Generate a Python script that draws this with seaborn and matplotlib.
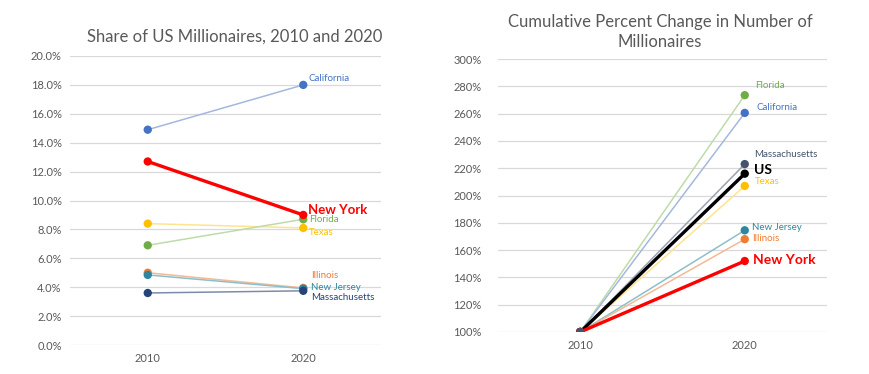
import matplotlib
matplotlib.use("Agg")
import matplotlib.pyplot as plt
import seaborn as sns
import pandas as pd
from matplotlib.ticker import FuncFormatter

sns.set_style("white")
plt.rcParams['font.family'] = ['Lato', 'DejaVu Sans']

years = ["2010", "2020"]

# Left chart: share of US millionaires (%)
share_states = ["California", "Texas", "Florida", "Illinois", "New Jersey", "Massachusetts", "New York"]
share_2010 = [14.9, 8.4, 6.9, 5.0, 4.85, 3.6, 12.7]
share_2020 = [18.0, 8.1, 8.7, 3.95, 3.9, 3.75, 9.0]

# Right chart: cumulative percent change (%)
chg_states = ["Florida", "California", "Massachusetts", "Texas", "New Jersey", "Illinois", "US", "New York"]
chg_2010 = [100, 100, 100, 100, 100, 100, 100, 100]
chg_2020 = [273.5, 260.5, 223, 207, 174.5, 168, 216, 152]

marker_colors = {
    "California": "#4472C4", "Texas": "#FFC000", "Florida": "#70AD47",
    "Illinois": "#ED7D31", "New Jersey": "#2E86A0", "Massachusetts": "#264478",
    "New York": "#FF0000", "US": "#000000",
}
line_colors = {
    "California": "#A4B8DE", "Texas": "#FFE48F", "Florida": "#BFDBA9",
    "Illinois": "#F4B995", "New Jersey": "#8DBFCB", "Massachusetts": "#7D8CA8",
    "New York": "#FF0000", "US": "#000000",
}
right_marker_colors = dict(marker_colors, Massachusetts="#44546A")
right_line_colors = dict(line_colors, Massachusetts="#9AA3B3")

fig = plt.figure(figsize=(8.7, 3.74), dpi=100)
W, H = 870, 374
axL = fig.add_axes([70 / W, 1 - 345 / H, (381 - 70) / W, (345 - 56) / H])
axR = fig.add_axes([498 / W, 1 - 332 / H, (827 - 498) / W, (332 - 59) / H])

tick_color = "#595959"
grid_color = "#D9D9D9"


def draw(ax, states, v10, v20, lc, mc, bold):
    df = pd.DataFrame({
        "state": [s for s in states for _ in years],
        "year": [0, 1] * len(states),
        "value": [v for pair in zip(v10, v20) for v in pair],
    })
    for s in states:
        sub = df[df.state == s]
        lw = 2.4 if s in bold else 1.1
        sns.lineplot(data=sub, x="year", y="value", color=lc[s], lw=lw, ax=ax,
                     zorder=4 if s in bold else 3, legend=False)
    for s in states:
        sub = df[df.state == s]
        sns.scatterplot(data=sub, x="year", y="value", color=mc[s], s=36,
                        edgecolor="none", ax=ax, zorder=5, legend=False)
    return df


draw(axL, share_states, share_2010, share_2020, line_colors, marker_colors, ["New York"])
dfR = draw(axR, chg_states, chg_2010, chg_2020, right_line_colors, right_marker_colors, ["New York", "US"])
# Massachusetts-coloured start point on top
sns.scatterplot(x=[0], y=[chg_2010[chg_states.index("Massachusetts")]],
                color=right_marker_colors["Massachusetts"], s=36, edgecolor="none", ax=axR, zorder=6)

for ax in (axL, axR):
    ax.set_xlim(-0.5, 1.5)
    ax.set_xticks([0, 1])
    ax.set_xticklabels(years)
    ax.set_xlabel("")
    ax.set_ylabel("")
    for sp in ax.spines.values():
        sp.set_visible(False)
    ax.grid(axis="y", color=grid_color, lw=0.9)
    ax.set_axisbelow(True)
    ax.tick_params(axis="both", colors=tick_color, labelsize=8, length=0, pad=6)
    ax.set_facecolor("none")

axL.set_ylim(0, 20)
axL.set_yticks([0, 2, 4, 6, 8, 10, 12, 14, 16, 18, 20])
axL.yaxis.set_major_formatter(FuncFormatter(lambda v, p: f"{v:.1f}%"))
axR.set_ylim(100, 300)
axR.set_yticks(list(range(100, 301, 20)))
axR.yaxis.set_major_formatter(FuncFormatter(lambda v, p: f"{v:.0f}%"))
axR.tick_params(axis="y", pad=12)

fig.text(235 / W, 1 - 37 / H, "Share of US Millionaires, 2010 and 2020", ha="center", va="center",
         fontsize=12, color="#595959")
fig.text(660 / W, 1 - 32 / H, "Cumulative Percent Change in Number of\nMillionaires", ha="center",
         va="center", fontsize=12, color="#595959", linespacing=1.25)

left_offsets = {
    "California": (5, 6), "New York": (5, 5), "Florida": (6, 0), "Texas": (6, -5),
    "Illinois": (8, 12), "New Jersey": (8, 1), "Massachusetts": (8, -7),
}
for s, v in zip(share_states, share_2020):
    bold = s == "New York"
    axL.annotate(s, xy=(1, v), xytext=left_offsets[s], textcoords="offset pixels",
                 ha="left", va="center", fontsize=9.5 if bold else 7,
                 fontweight="bold" if bold else "normal",
                 color=marker_colors[s] if s != "Massachusetts" else "#264478")

right_offsets = {
    "Florida": (10, 10), "California": (12, 5), "Massachusetts": (9, 10), "US": (9, 4),
    "Texas": (10, 4), "New Jersey": (7, 3), "Illinois": (7, 1), "New York": (8, 1),
}
for s, v in zip(chg_states, chg_2020):
    bold = s in ("New York", "US")
    axR.annotate(s, xy=(1, v), xytext=right_offsets[s], textcoords="offset pixels",
                 ha="left", va="center", fontsize=10 if bold else 7,
                 fontweight="bold" if bold else "normal",
                 color=right_marker_colors[s])

fig.savefig("out.png", dpi=100, facecolor="white")
